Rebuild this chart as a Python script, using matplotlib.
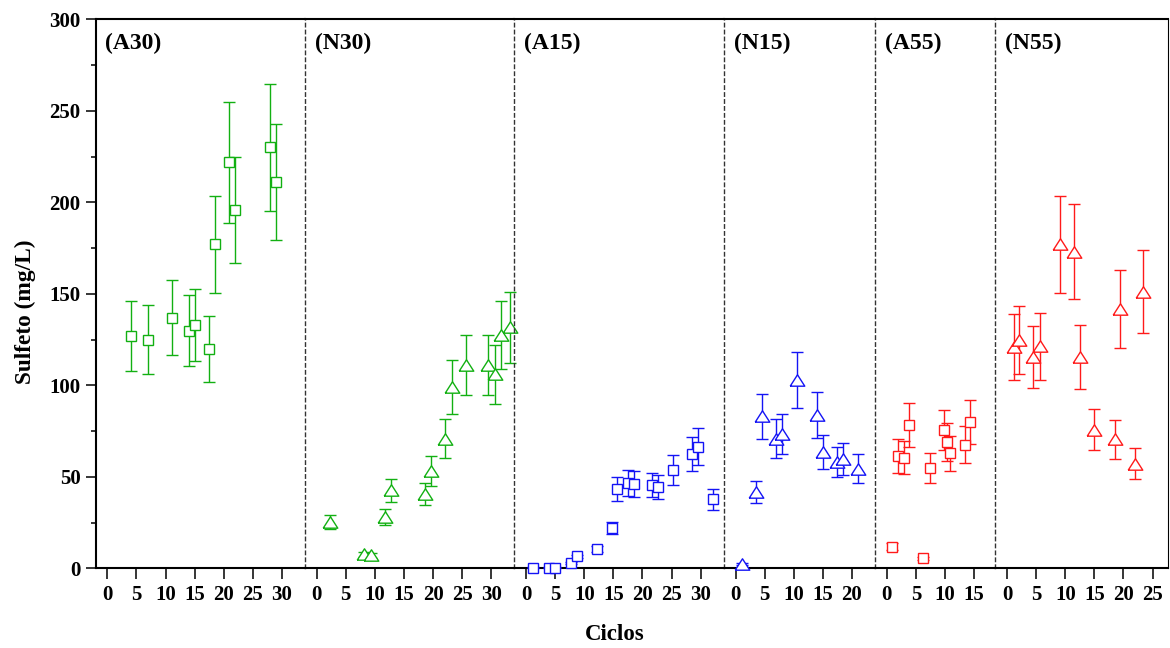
import matplotlib.pyplot as plt
from matplotlib.ticker import MultipleLocator

plt.rcParams['font.family'] = ['Liberation Serif', 'DejaVu Serif']
plt.rcParams['font.weight'] = 'bold'

# panel labels, x ranges, colours
panels = ['(A30)', '(N30)', '(A15)', '(N15)', '(A55)', '(N55)']
xmax = [34, 34, 34, 24, 18.7, 27.7]
xtick_max = [30, 30, 30, 20, 15, 25]
green = '#12B012'
blue = '#1414F5'
red = '#FF1A1A'

# (A30)
a30_x = [4.0, 7.0, 11.1, 14.0, 15.1, 17.5, 18.5, 21.0, 22.0, 28.0, 29.0]
a30_y = [127, 125, 137, 130, 133, 120, 177, 222, 196, 230, 211]
a30_err = [19, 19, 20.5, 19.4, 19.8, 18, 26.5, 33, 29, 34.5, 31.7]
# (N30)
n30_x = [2.2, 8.1, 9.3, 11.8, 12.8, 18.7, 19.7, 22.1, 23.2, 25.7, 29.5, 30.7, 31.7, 33.2]
n30_y = [25.3, 7.7, 7.1, 28.1, 42.7, 40.8, 53.2, 70.9, 99.2, 111, 111, 106, 127.5, 131.7]
n30_err = [3.8, 1.2, 1.1, 4.2, 6.4, 6.1, 8, 10.6, 14.6, 16.5, 16.5, 16, 18.7, 19.5]
# (A15)
a15_x = [1.2, 4.0, 5.0, 7.7, 8.7, 12.2, 14.7, 15.6, 17.5, 18.6, 21.7, 22.7, 25.2, 28.6, 29.6, 32.2]
a15_y = [0.5, 0.5, 0.5, 2.9, 6.6, 10.8, 22.3, 43.4, 46.7, 46.3, 45.8, 44.3, 54, 62.5, 66.6, 37.7]
a15_err = [0.1, 0.1, 0.1, 0.4, 1.0, 1.6, 3.3, 6.5, 7, 7, 6.6, 6.6, 8.2, 9.2, 9.9, 5.5]
# (N15)
n15_x = [1.1, 3.5, 4.6, 7.0, 8.0, 10.6, 14.0, 15.0, 17.5, 18.5, 21.0]
n15_y = [2.5, 41.7, 83.2, 70.9, 73.3, 102.8, 83.7, 63.6, 58.2, 60, 54.5]
n15_err = [0.4, 6, 12.3, 10.5, 11, 15.3, 12.5, 9.4, 8.4, 8.7, 7.8]
# (A55)
a55_x = [0.9, 1.9, 2.9, 3.8, 6.3, 7.4, 9.9, 10.4, 10.9, 13.4, 14.4]
a55_y = [12.0, 61.6, 60.5, 78.4, 5.5, 54.7, 75.7, 69.1, 62.9, 67.7, 80]
a55_err = [1.8, 9.4, 9, 11.8, 0.8, 8.2, 11, 10.4, 9.5, 10, 12]
# (N55)
n55_x = [1.1, 2.1, 4.5, 5.7, 9.1, 11.5, 12.5, 15.0, 18.5, 19.4, 22.0, 23.4]
n55_y = [121, 124.7, 115.6, 121.4, 177, 173, 115.6, 75.9, 70.6, 141.7, 57.3, 151.2]
n55_err = [18, 18.6, 17, 18.4, 26.5, 26, 17.4, 11.4, 10.6, 21.5, 8.6, 22.6]

tri = [(-1, -0.78), (1, -0.78), (0, 0.78), (-1, -0.78)]
series = [(a30_x, a30_y, a30_err, green, 's'),
          (n30_x, n30_y, n30_err, green, tri),
          (a15_x, a15_y, a15_err, blue, 's'),
          (n15_x, n15_y, n15_err, blue, tri),
          (a55_x, a55_y, a55_err, red, 's'),
          (n55_x, n55_y, n55_err, red, tri)]

fig = plt.figure(figsize=(11.7, 6.48), dpi=100)
widths = [m + 2 for m in xmax]
gs = fig.add_gridspec(1, 6, width_ratios=widths, wspace=0,
                      left=0.0818, right=0.9985, bottom=0.1227, top=0.9702)

for i in range(6):
    ax = fig.add_subplot(gs[0, i])
    ax.set_facecolor('none')
    x, y, err, col, mk = series[i]
    ms = 7 if mk == 's' else 10.5
    ax.errorbar(x, y, yerr=err, ls='none', marker=mk, ms=ms, mfc='white',
                mec=col, mew=1.0, ecolor=col, elinewidth=1.0, capsize=4,
                capthick=1.0, clip_on=False, zorder=3)
    ax.set_xlim(-2, xmax[i])
    ax.set_ylim(0, 300)
    ax.set_xticks(range(0, xtick_max[i] + 1, 5))
    ax.tick_params(axis='x', direction='out', length=8, width=1.1, pad=4,
                   labelsize=15)
    ax.spines['top'].set_linewidth(1.5)
    ax.spines['bottom'].set_linewidth(1.5)
    if i == 0:
        ax.spines['left'].set_linewidth(1.5)
        ax.yaxis.set_major_locator(MultipleLocator(50))
        ax.yaxis.set_minor_locator(MultipleLocator(25))
        ax.tick_params(axis='y', which='major', direction='out', length=7,
                       width=1.1, pad=4, labelsize=15)
        ax.tick_params(axis='y', which='minor', direction='out', length=3.5,
                       width=1.1)
    else:
        ax.spines['left'].set_visible(False)
        ax.tick_params(axis='y', which='both', left=False, labelleft=False)
    if i < 5:
        ax.spines['right'].set_linestyle((0, (2.5, 2.5)))
        ax.spines['right'].set_color('#333333')
        ax.spines['right'].set_linewidth(1.0)
        ax.spines['right'].set_zorder(5)
    else:
        ax.spines['right'].set_linewidth(0.8)
    ax.annotate(panels[i], xy=(0, 1), xycoords='axes fraction',
                xytext=(7, -17.5), textcoords='offset points',
                ha='left', va='center', fontsize=17, fontweight='bold')

fig.text(615 / 1170, 1 - 635 / 648, 'Ciclos', ha='center', va='center',
         fontsize=16.5, fontweight='bold')
fig.text(25 / 1170, 1 - 312 / 648, 'Sulfeto (mg/L)', ha='center',
         va='center', rotation=90, fontsize=16.8, fontweight='bold')

fig.savefig('out.png', dpi=100)
